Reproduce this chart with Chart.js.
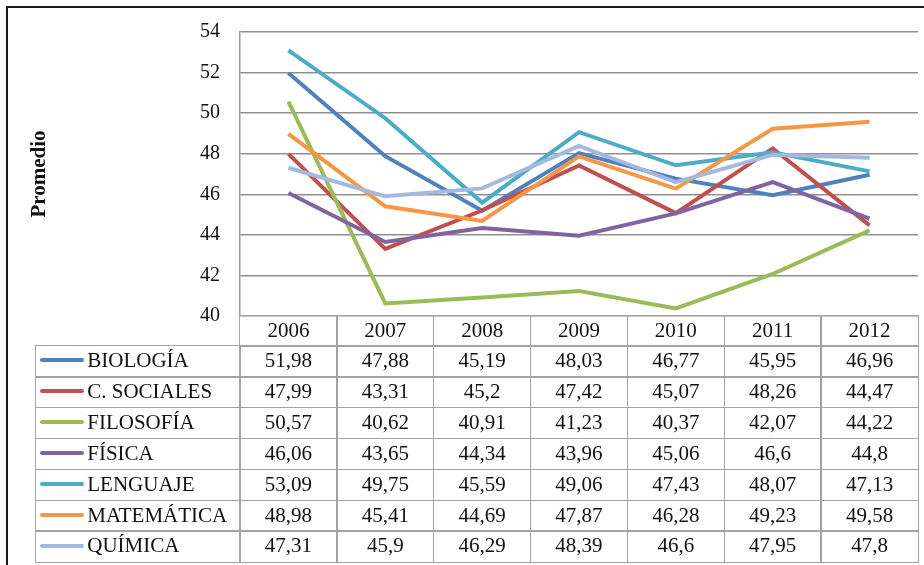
<!DOCTYPE html>
<html>
<head>
<meta charset="utf-8">
<script src="https://cdn.jsdelivr.net/npm/chart.js@4.4.1/dist/chart.umd.min.js"></script>
<style>
  html, body { margin: 0; padding: 0; background: #fff; overflow: hidden; }
  #wrap { position: relative; width: 924px; height: 565px; overflow: hidden; font-family: "Liberation Serif", "Times New Roman", serif; }
  #frame { position: absolute; left: 6px; top: 6px; width: 940px; height: 600px; border: 2px solid #1a1a1a; box-sizing: border-box; pointer-events: none; }
  canvas { position: absolute; left: 0; top: 0; }
  .cell { position: absolute; box-sizing: border-box; border: 1.5px solid #a2a2a2; font-size: 21px; color: #111; text-align: center; white-space: nowrap; overflow: hidden; }
  .lab { text-align: left; padding-left: 4px; }
  .key { display: inline-block; width: 44px; height: 4px; border-radius: 2px; vertical-align: middle; margin-right: 3px; position: relative; top: -2px; }
</style>
</head>
<body>
<div id="wrap">
  <canvas id="c" width="924" height="565"></canvas>
  <div id="tbl"></div>
  <div id="frame"></div>
</div>
<script>
const years = ["2006", "2007", "2008", "2009", "2010", "2011", "2012"];
const seriesNames = ["BIOLOGÍA", "C. SOCIALES", "FILOSOFÍA", "FÍSICA", "LENGUAJE", "MATEMÁTICA", "QUÍMICA"];
const biologia   = [51.98, 47.88, 45.19, 48.03, 46.77, 45.95, 46.96];
const cSociales  = [47.99, 43.31, 45.2, 47.42, 45.07, 48.26, 44.47];
const filosofia  = [50.57, 40.62, 40.91, 41.23, 40.37, 42.07, 44.22];
const fisica     = [46.06, 43.65, 44.34, 43.96, 45.06, 46.6, 44.8];
const lenguaje   = [53.09, 49.75, 45.59, 49.06, 47.43, 48.07, 47.13];
const matematica = [48.98, 45.41, 44.69, 47.87, 46.28, 49.23, 49.58];
const quimica    = [47.31, 45.9, 46.29, 48.39, 46.6, 47.95, 47.8];
const yTicks = [40, 42, 44, 46, 48, 50, 52, 54];
const colors = ["#4F81BD", "#C0504D", "#9BBB59", "#8064A2", "#4BACC6", "#F79646", "#A3B9DD"];

const seriesValues = [biologia, cSociales, filosofia, fisica, lenguaje, matematica, quimica];
// Excel-style stacking: later series drawn on top
const datasets = seriesNames.map((n, i) => ({
  label: n,
  data: seriesValues[i],
  borderColor: colors[i],
  backgroundColor: colors[i],
  borderWidth: 4,
  pointRadius: 0,
  tension: 0,
  fill: false,
  order: seriesNames.length - i
}));

const chart = new Chart(document.getElementById('c'), {
  type: 'line',
  data: { labels: years, datasets: datasets },
  options: {
    responsive: false,
    animation: false,
    layout: { padding: { left: 0, top: 29, right: 6, bottom: 249 } },
    plugins: { legend: { display: false }, tooltip: { enabled: false } },
    scales: {
      x: { display: false, offset: true },
      y: {
        min: 40, max: 54,
        afterBuildTicks: (s) => { s.ticks = yTicks.map(v => ({ value: v })); },
        afterFit: (s) => { s.width = 240; },
        grid: { color: '#8f8f8f', lineWidth: 1.5, drawTicks: false },
        border: { display: true, color: '#9a9a9a', width: 1.5 },
        ticks: { padding: 20, color: '#111', font: { family: 'Liberation Serif', size: 20 } },
        title: { display: true, text: 'Promedio', color: '#111', padding: { top: 27, bottom: 0 }, font: { family: 'Liberation Serif', size: 21, weight: 'bold' } }
      }
    }
  }
});

// Data table below the plot, aligned to the chart's own category scale
(function buildTable() {
  const xs = chart.scales.x;
  const area = chart.chartArea;
  const bounds = [area.left];
  for (let i = 0; i < years.length - 1; i++) {
    bounds.push((xs.getPixelForValue(i) + xs.getPixelForValue(i + 1)) / 2);
  }
  bounds.push(area.right);
  const tbl = document.getElementById('tbl');
  const tableLeft = 36;
  const headTop = area.bottom, headH = 30;
  const bodyTop = headTop + headH, bodyBottom = 562;
  const rowH = (bodyBottom - bodyTop) / seriesNames.length;
  function cell(x0, y0, w, h, html, cls) {
    const d = document.createElement('div');
    d.className = 'cell' + (cls ? ' ' + cls : '');
    d.style.left = (x0 - 0.75) + 'px';
    d.style.top = (y0 - 0.75) + 'px';
    d.style.width = (w + 1.5) + 'px';
    d.style.height = (h + 1.5) + 'px';
    d.style.lineHeight = (h - 1) + 'px';
    d.innerHTML = html;
    tbl.appendChild(d);
  }
  years.forEach((y, i) => cell(bounds[i], headTop, bounds[i + 1] - bounds[i], headH, y));
  seriesNames.forEach((n, r) => {
    const top = bodyTop + r * rowH;
    cell(tableLeft, top, bounds[0] - tableLeft, rowH,
      '<span class="key" style="background:' + colors[r] + '"></span>' + n, 'lab');
    seriesValues[r].forEach((v, i) => {
      cell(bounds[i], top, bounds[i + 1] - bounds[i], rowH, String(v).replace('.', ','));
    });
  });
})();
</script>
</body>
</html>
